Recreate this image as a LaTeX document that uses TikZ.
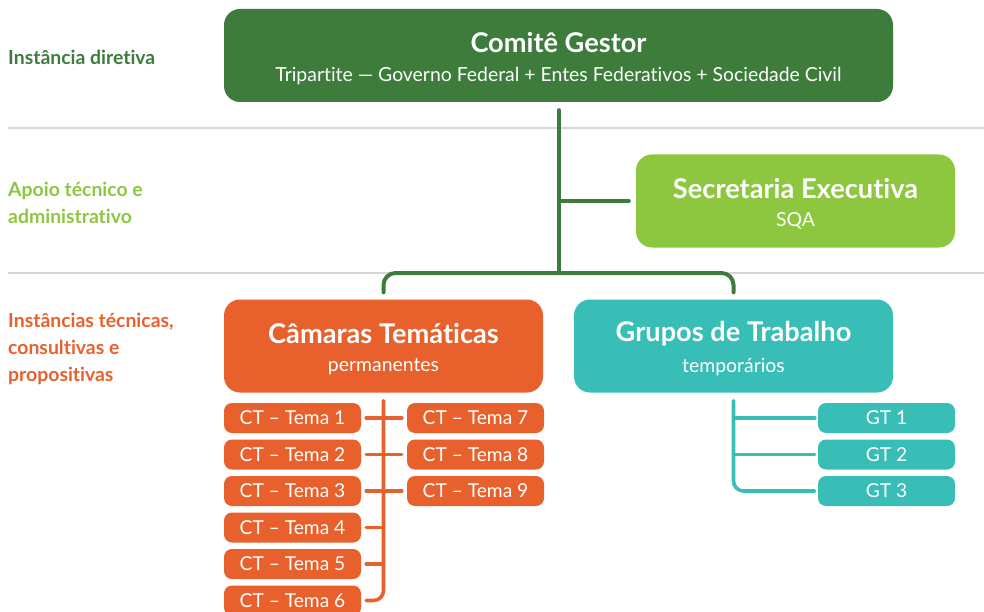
\documentclass[tikz,border=0pt]{standalone}
\usepackage{fontspec}
\setmainfont[Ligatures=NoCommon]{Lato}
\definecolor{dkgreen}{HTML}{3D7C3B}
\definecolor{ltgreen}{HTML}{8DC63F}
\definecolor{orng}{HTML}{E8612C}
\definecolor{teal}{HTML}{38BEB7}
\definecolor{sep}{HTML}{D6D6D6}
\begin{document}
\begin{tikzpicture}[x=1pt,y=-1pt,
  bigbox/.style={rounded corners=16pt, fill=#1, draw=none, inner sep=0pt, minimum height=93pt},
  smallbox/.style={rounded corners=8pt, fill=#1, draw=none, inner sep=0pt, minimum height=30pt, minimum width=137pt, text=white, font=\fontsize{19.2}{21}\selectfont},
  title/.style={text=white, font=\fontsize{27.2}{30}\selectfont\bfseries, inner sep=0pt},
  subtitle/.style={text=white, font=\fontsize{19.4}{22}\selectfont, inner sep=0pt},
  side/.style={text=#1, font=\fontsize{19.4}{27}\selectfont\bfseries, align=left, anchor=west, inner sep=0pt},
  conn/.style={draw=#1, line width=3.6pt, line cap=round},
  sepline/.style={draw=sep, line width=2.5pt}]
\clip (0,0) rectangle (984,612);
\path[use as bounding box] (0,0) rectangle (984,612);
% separators
\draw[sepline] (8,128) -- (984,128);
\draw[sepline] (8,273) -- (984,273);
% side labels
\node[side=dkgreen] (l1) at (8,57) {Instância diretiva};
\node[side=ltgreen] (l2) at (8,202.5) {Apoio técnico e\\administrativo};
\node[side=orng] (l3) at (8,349) {Instâncias técnicas,\\consultivas e\\propositivas};
% main boxes
\node[bigbox=dkgreen, minimum width=669pt] (cg) at (558.5,55.5) {};
\node[title] (cgt) at (558.5,42.5) {Comitê Gestor};
\node[subtitle] (cgs) at (558.5,76) {Tripartite — Governo Federal + Entes Federativos + Sociedade Civil};
\node[bigbox=ltgreen, minimum width=319pt] (se) at (795.5,201) {};
\node[title] (set) at (795.5,188.5) {Secretaria Executiva};
\node[subtitle] (ses) at (795.5,221) {SQA};
\node[bigbox=orng, minimum width=319pt] (ct) at (383.5,346) {};
\node[title] (ctt) at (383.5,333.5) {Câmaras Temáticas};
\node[subtitle] (cts) at (383.5,367) {permanentes};
\node[bigbox=teal, minimum width=319pt] (gt) at (733.5,346) {};
\node[title] (gtt) at (733.5,333.5) {Grupos de Trabalho};
\node[subtitle] (gts) at (733.5,367) {temporários};
% CT boxes
\node[smallbox=orng] (t1) at (292.5,418) {CT – Tema 1};
\node[smallbox=orng] (t2) at (292.5,454.5) {CT – Tema 2};
\node[smallbox=orng] (t3) at (292.5,491) {CT – Tema 3};
\node[smallbox=orng] (t4) at (292.5,527.5) {CT – Tema 4};
\node[smallbox=orng] (t5) at (292.5,564) {CT – Tema 5};
\node[smallbox=orng] (t6) at (292.5,600.5) {CT – Tema 6};
\node[smallbox=orng] (t7) at (475.5,418) {CT – Tema 7};
\node[smallbox=orng] (t8) at (475.5,454.5) {CT – Tema 8};
\node[smallbox=orng] (t9) at (475.5,491) {CT – Tema 9};
% GT boxes
\node[smallbox=teal] (g1) at (886.5,418) {GT 1};
\node[smallbox=teal] (g2) at (886.5,454.5) {GT 2};
\node[smallbox=teal] (g3) at (886.5,491) {GT 3};
% green connectors
\coordinate (j) at (559,273);
\draw[conn=dkgreen, line width=4pt, shorten <=8pt] (cg.south -| j) -- (j);
\draw[conn=dkgreen, line width=4pt, shorten >=7pt] (j |- se.west) -- (se.west);
\draw[conn=dkgreen, line width=4pt, rounded corners=12pt, shorten <=7pt, shorten >=7pt]
  (ct.north) -- (ct.north |- j) -- (gt.north |- j) -- (gt.north);
% orange connectors
\draw[conn=orng, rounded corners=10pt, shorten <=8pt, shorten >=5pt]
  (ct.south) -- (ct.south |- t6.east) -- (t6.east);
\draw[conn=orng, shorten <=5pt, shorten >=5pt] (t1.east) -- (t7.west);
\draw[conn=orng, shorten <=5pt, shorten >=5pt] (t2.east) -- (t8.west);
\draw[conn=orng, shorten <=5pt, shorten >=5pt] (t3.east) -- (t9.west);
\draw[conn=orng, shorten <=5pt] (t4.east) -- (t4.east -| ct.south);
\draw[conn=orng, shorten <=5pt] (t5.east) -- (t5.east -| ct.south);
% teal connectors
\draw[conn=teal, rounded corners=10pt, shorten <=8pt, shorten >=3pt]
  (gt.south) -- (gt.south |- g3.west) -- (g3.west);
\draw[conn=teal, shorten >=3pt] (gt.south |- g1.west) -- (g1.west);
\draw[conn=teal, shorten >=3pt] (gt.south |- g2.west) -- (g2.west);
\end{tikzpicture}
\end{document}
